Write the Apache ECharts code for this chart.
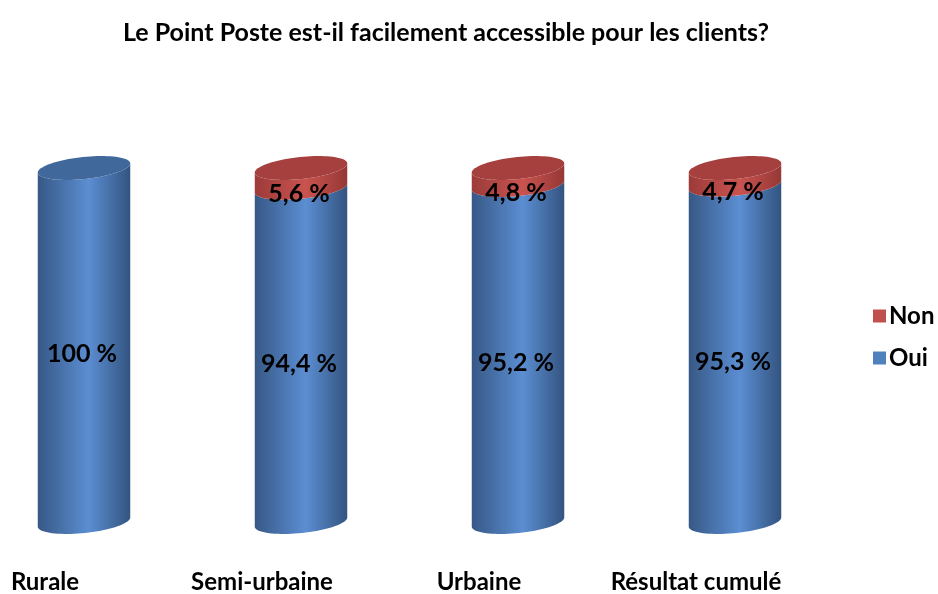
<!DOCTYPE html>
<html>
<head>
<meta charset="utf-8">
<script src="https://cdn.jsdelivr.net/npm/echarts@6/dist/echarts.min.js"></script>
<style>
  html, body { margin: 0; padding: 0; background: #fff; }
  #chart { width: 938px; height: 594px; }
</style>
</head>
<body>
<div id="chart"></div>
<script>
// Survey answers per zone, in percent
const categories = ['Rurale', 'Semi-urbaine', 'Urbaine', 'Résultat cumulé'];
const oui = [100, 94.4, 95.2, 95.3];
const non = [0, 5.6, 4.8, 4.7];

const FONT = 'Lato, "Open Sans", sans-serif';

function fmt(v) {
  return String(v).replace('.', ',') + ' %';
}

// Cylinder geometry (pixels)
const RX = 46.5;          // half width of a cylinder
const RY = 11;            // half height of the elliptic caps
const TILT = -0.105;      // rotation of the caps (right end higher)

function ellipsePoint(cx, cy, t) {
  const ct = Math.cos(TILT), st = Math.sin(TILT);
  const ex = RX * Math.cos(t), ey = RY * Math.sin(t);
  return [cx + ex * ct - ey * st, cy + ex * st + ey * ct];
}

// Front half of a cap: from right end (t=0) through the front to left end (t=PI)
function frontArc(cx, cy, reverse) {
  const pts = [];
  const n = 40;
  for (let i = 0; i <= n; i++) {
    const t = Math.PI * (reverse ? (n - i) : i) / n;
    pts.push(ellipsePoint(cx, cy, t));
  }
  return pts;
}

function fullEllipse(cx, cy) {
  const pts = [];
  const n = 80;
  for (let i = 0; i < n; i++) pts.push(ellipsePoint(cx, cy, 2 * Math.PI * i / n));
  return pts;
}

const palettes = {
  Oui: {
    body: [
      { offset: 0, color: '#375886' },
      { offset: 0.55, color: '#5b8ed2' },
      { offset: 1, color: '#335480' }
    ],
    cap: '#40689b'
  },
  Non: {
    body: [
      { offset: 0, color: '#9c3b39' },
      { offset: 0.55, color: '#c9534f' },
      { offset: 1, color: '#963836' }
    ],
    cap: '#a6403e'
  }
};

function makeRender(name, values) {
  return function (params, api) {
    const idx = api.value(0);
    const lo = api.value(1);
    const hi = api.value(2);
    if (hi - lo <= 0) return;
    const pLo = api.coord([idx, lo]);
    const pHi = api.coord([idx, hi]);
    const cx = pLo[0];
    // body: bottom front arc (left->right), then top front arc (right->left)
    const bottom = frontArc(cx, pLo[1], true);
    const top = frontArc(cx, pHi[1], false);
    const bodyPts = bottom.concat(top);
    const pal = palettes[name];
    const children = [{
      type: 'polygon',
      shape: { points: bodyPts },
      style: {
        fill: new echarts.graphic.LinearGradient(0, 0, 1, 0, pal.body)
      }
    }];
    const isTop = name === 'Non' || non[idx] === 0;
    if (isTop) {
      children.push({
        type: 'polygon',
        shape: { points: fullEllipse(cx, pHi[1]) },
        style: { fill: pal.cap }
      });
    }
    const midY = (pLo[1] + pHi[1]) / 2 + (name === 'Non' ? 16 : 9);
    children.push({
      type: 'text',
      x: cx - 2,
      y: midY,
      style: {
        text: fmt(values[idx]),
        fill: '#000',
        font: 'bold 25px ' + FONT,
        align: 'center',
        verticalAlign: 'middle'
      },
      z2: 10
    });
    return { type: 'group', children: children };
  };
}

const ouiData = categories.map((c, i) => [i, 0, oui[i]]);
const nonData = categories.map((c, i) => [i, oui[i], oui[i] + non[i]]);

const chart = echarts.init(document.getElementById('chart'), null, { renderer: 'canvas' });
chart.setOption({
  animation: false,
  backgroundColor: '#fff',
  title: {
    text: 'Le Point Poste est-il facilement accessible pour les clients?',
    left: 441,
    top: 15,
    textAlign: 'center',
    textStyle: { fontFamily: FONT, fontWeight: 'bold', fontSize: 25, color: '#000' }
  },
  legend: {
    orient: 'vertical',
    left: 868,
    top: 299,
    itemWidth: 13,
    itemHeight: 13,
    itemGap: 18,
    icon: 'rect',
    data: [
      { name: 'Non', itemStyle: { color: '#c0504d' } },
      { name: 'Oui', itemStyle: { color: '#4f81bd' } }
    ],
    textStyle: { fontFamily: FONT, fontWeight: 'bold', fontSize: 24, color: '#000', padding: [0, 0, 0, -2] }
  },
  grid: { left: 84, right: 938 - 735, top: 168, bottom: 594 - 523.5 },
  xAxis: {
    type: 'category',
    data: categories,
    boundaryGap: false,
    axisLine: { show: false },
    axisTick: { show: false },
    axisLabel: {
      interval: 0,
      hideOverlap: false,
      margin: 48,
      padding: [0, 78, 0, 0],
      fontFamily: FONT,
      fontWeight: 'bold',
      fontSize: 24,
      color: '#000'
    }
  },
  yAxis: {
    type: 'value',
    min: 0,
    max: 100,
    show: false
  },
  series: [
    {
      name: 'Oui',
      type: 'custom',
      renderItem: makeRender('Oui', oui),
      data: ouiData,
      encode: { x: 0, y: [1, 2] },
      itemStyle: { color: '#4f81bd' }
    },
    {
      name: 'Non',
      type: 'custom',
      renderItem: makeRender('Non', non),
      data: nonData,
      encode: { x: 0, y: [1, 2] },
      itemStyle: { color: '#c0504d' }
    }
  ]
});
</script>
</body>
</html>
